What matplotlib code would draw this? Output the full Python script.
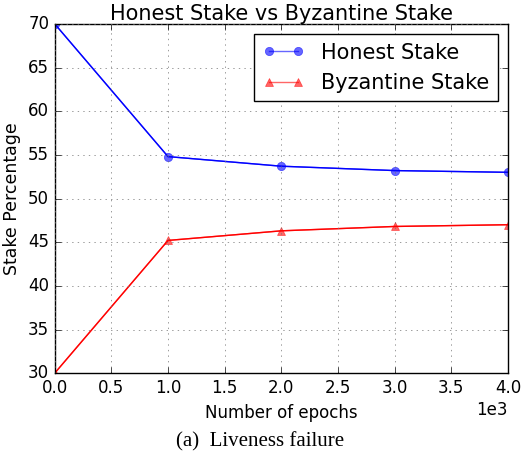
import matplotlib
matplotlib.use("Agg")
from matplotlib import pyplot as plt

plt.style.use("classic")

epochs = [0, 1000, 2000, 3000, 4000]
honest = [70.0, 54.8, 53.7, 53.2, 53.0]
byzantine = [30.0, 45.2, 46.3, 46.8, 47.0]

fig = plt.figure(figsize=(5.21, 4.59), dpi=100, facecolor="white")
ax = fig.add_axes([0.105, 0.187, 0.870, 0.761])

ax.plot(epochs, honest, color="b", marker="o", markersize=6, alpha=0.6,
        markeredgecolor="b", label="Honest Stake")
ax.plot(epochs, honest, color="b", linewidth=1)
ax.plot(epochs, byzantine, color="r", marker="^", markersize=6, alpha=0.6,
        markeredgecolor="r", label="Byzantine Stake")
ax.plot(epochs, byzantine, color="r", linewidth=1)

ax.set_xlim(0, 4000)
ax.set_ylim(30, 70)
ax.ticklabel_format(axis="x", style="sci", scilimits=(0, 0))
ax.grid(True, color="0.45")
ax.set_title("Honest Stake vs Byzantine Stake", fontsize=15, pad=3)
ax.set_xlabel("Number of epochs", fontsize=12)
ax.set_ylabel("Stake Percentage", fontsize=12.5)
ax.legend(loc="upper right", fontsize=15, numpoints=2)

fig.text(0.5, 0.037, "(a)  Liveness failure", ha="center", va="center",
         family="Liberation Serif", fontsize=15)

fig.savefig("out.png", dpi=100, facecolor="white")
